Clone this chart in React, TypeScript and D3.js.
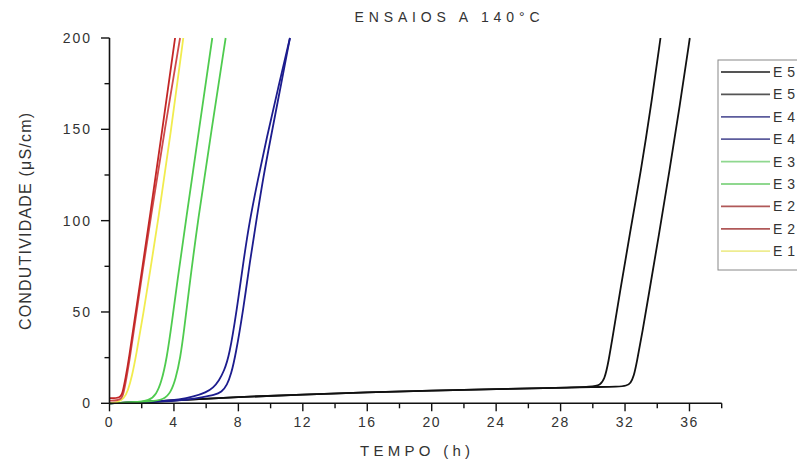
import React from "react";
import * as d3 from "d3";

const legendLabels = ["E5", "E5", "E4", "E4", "E3", "E3", "E2", "E2", "E1"];
const seriesColors = ["#111111", "#111111", "#1c1c8e", "#1c1c8e", "#4fcb4f", "#4fcb4f", "#c22626", "#cf4a4a", "#f1ec4e"];
const legendColors = ["#555555", "#555555", "#5c5c9c", "#5c5c9c", "#8fd88f", "#8fd88f", "#b05858", "#b05858", "#eeec90"];

const xTicks = [0, 4, 8, 12, 16, 20, 24, 28, 32, 36];
const yTicks = [0, 50, 100, 150, 200];

// E5 (two runs)
const e5a: [number, number][] = [[0, 0], [2, 0.8], [4, 1.6], [8, 3.5], [12, 4.8], [16, 6], [20, 7], [24, 7.8], [28, 8.5], [30, 9.1], [30.45, 10], [30.72, 13], [30.96, 21.9], [31.3, 40], [31.65, 59], [32.3, 93], [33.0, 128], [33.6, 162], [34.2, 200]];
const e5b: [number, number][] = [[0, 0], [2, 0.8], [4, 1.6], [8, 3.5], [12, 4.8], [16, 6], [20, 7], [24, 7.8], [28, 8.5], [30, 8.9], [31.6, 9.1], [32.1, 9.6], [32.35, 11], [32.55, 15], [32.72, 21.9], [33.1, 40], [33.45, 58.4], [34.1, 92], [34.75, 127], [35.4, 163], [36.02, 200]];
// E4
const e4a: [number, number][] = [[0, 0], [1, 0.3], [3, 1], [4.4, 2], [5.2, 3.6], [6, 6], [6.44, 8.5], [6.8, 12.5], [7.1, 17.5], [7.44, 26], [7.9, 51], [8.3, 77], [8.7, 100], [9.2, 122], [9.75, 145], [10.45, 172], [11.2, 200]];
const e4b: [number, number][] = [[0, 0], [1.5, 0.3], [3, 0.7], [4.5, 1.5], [5.8, 3.4], [6.5, 4.5], [6.96, 6], [7.3, 10], [7.55, 16], [7.82, 26], [8.3, 51], [8.72, 78], [9.15, 102], [9.55, 124], [10.0, 145], [10.55, 170], [11.2, 200]];
// E3
const e3a: [number, number][] = [[0, 0], [1.5, 0.5], [2.5, 1.5], [2.9, 5], [3.2, 11], [3.55, 24], [3.9, 46], [4.2, 66], [4.74, 100], [5.56, 150], [6.38, 200]];
const e3b: [number, number][] = [[0, 0], [2.5, 0.8], [3.4, 2], [3.8, 6], [4.1, 13], [4.4, 25], [4.63, 40], [4.9, 60], [5.48, 100], [6.34, 150], [7.21, 200]];
// E2
const e2a: [number, number][] = [[0, 2.8], [0.68, 2.8], [0.82, 6], [1.0, 14], [1.2, 24], [1.63, 50], [2.05, 75], [2.47, 100], [3.28, 150], [4.07, 200]];
const e2b: [number, number][] = [[0, 1.5], [0.72, 1.6], [0.86, 5], [1.04, 13], [1.25, 24], [1.68, 50], [2.1, 75], [2.53, 100], [3.43, 150], [4.38, 200]];
// E1
const e1: [number, number][] = [[0, 0], [0.5, 0.5], [0.9, 2.5], [1.15, 7], [1.4, 15], [1.65, 26], [2.1, 49], [2.55, 74], [3.0, 99], [3.8, 148], [4.58, 200]];

const seriesData = [e5a, e5b, e4a, e4b, e3a, e3b, e2a, e2b, e1];

export default function App() {
  const W = 797;
  const H = 463;
  const x = d3.scaleLinear().domain([0, 38]).range([109.5, 721.7]);
  const y = d3.scaleLinear().domain([0, 200]).range([403.3, 38]);
  const line = d3
    .line<[number, number]>()
    .x((d) => x(d[0]))
    .y((d) => y(d[1]))
    .curve(d3.curveBasis);

  const xMinor = d3.range(0, 39, 2);
  const yMinor = d3.range(0, 201, 25);
  const font = "'Liberation Sans', Arial, sans-serif";
  const drawOrder = [0, 1, 2, 3, 4, 5, 8, 7, 6];

  return (
    <svg width={W} height={H} style={{ position: "absolute", left: 0, top: 0, background: "#fff" }} fontFamily={font}>
      <rect x={0} y={0} width={W} height={H} fill="#fff" />
      <text x={447} y={22} textAnchor="middle" fontSize={14} fill="#333" textLength={185} lengthAdjust="spacing">
        ENSAIOS A 140°C
      </text>

      {drawOrder.map((i) => (
        <path key={i} d={line(seriesData[i]) || ""} fill="none" stroke={seriesColors[i]} strokeWidth={1.8} />
      ))}

      {/* axes */}
      <line x1={x(0)} x2={x(38)} y1={y(0)} y2={y(0)} stroke="#111" strokeWidth={1.6} />
      <line x1={x(0)} x2={x(0)} y1={y(0)} y2={y(200)} stroke="#111" strokeWidth={1.6} />
      {xMinor.map((t) => (
        <line key={"xm" + t} x1={x(t)} x2={x(t)} y1={y(0)} y2={y(0) + (t % 4 === 0 ? 8 : 5)} stroke="#111" strokeWidth={1.4} />
      ))}
      {yMinor.map((v) => (
        <line key={"ym" + v} x1={x(0)} x2={x(0) - (v % 50 === 0 ? 8.5 : 5)} y1={y(v)} y2={y(v)} stroke="#111" strokeWidth={1.4} />
      ))}
      {xTicks.map((t) => (
        <text key={"xt" + t} x={x(t)} y={427} textAnchor="middle" fontSize={14} fill="#333" letterSpacing={1.5}>
          {t}
        </text>
      ))}
      {yTicks.map((v) => (
        <text key={"yt" + v} x={92} y={y(v) + 5} textAnchor="end" fontSize={14} fill="#333" letterSpacing={2}>
          {v}
        </text>
      ))}
      <text x={360} y={456} fontSize={15} fill="#333" textLength={110} lengthAdjust="spacing">
        TEMPO (h)
      </text>
      <text
        transform="translate(31,330) rotate(-90)"
        x={0}
        y={0}
        fontSize={16}
        fill="#333"
        textLength={217}
        lengthAdjust="spacing"
      >
        CONDUTIVIDADE (μS/cm)
      </text>

      {/* legend */}
      <rect x={718} y={60} width={100} height={210} fill="#fff" stroke="#888" strokeWidth={1} />
      {legendLabels.map((lab, i) => {
        const ly = 72 + i * 22.4;
        return (
          <g key={"lg" + i}>
            <line x1={721} x2={770} y1={ly} y2={ly} stroke={legendColors[i]} strokeWidth={1.8} />
            <text x={773} y={ly + 5} fontSize={14} fill="#333">
              {lab.charAt(0)}
              <tspan dx={5}>{lab.slice(1)}</tspan>
            </text>
          </g>
        );
      })}
    </svg>
  );
}
